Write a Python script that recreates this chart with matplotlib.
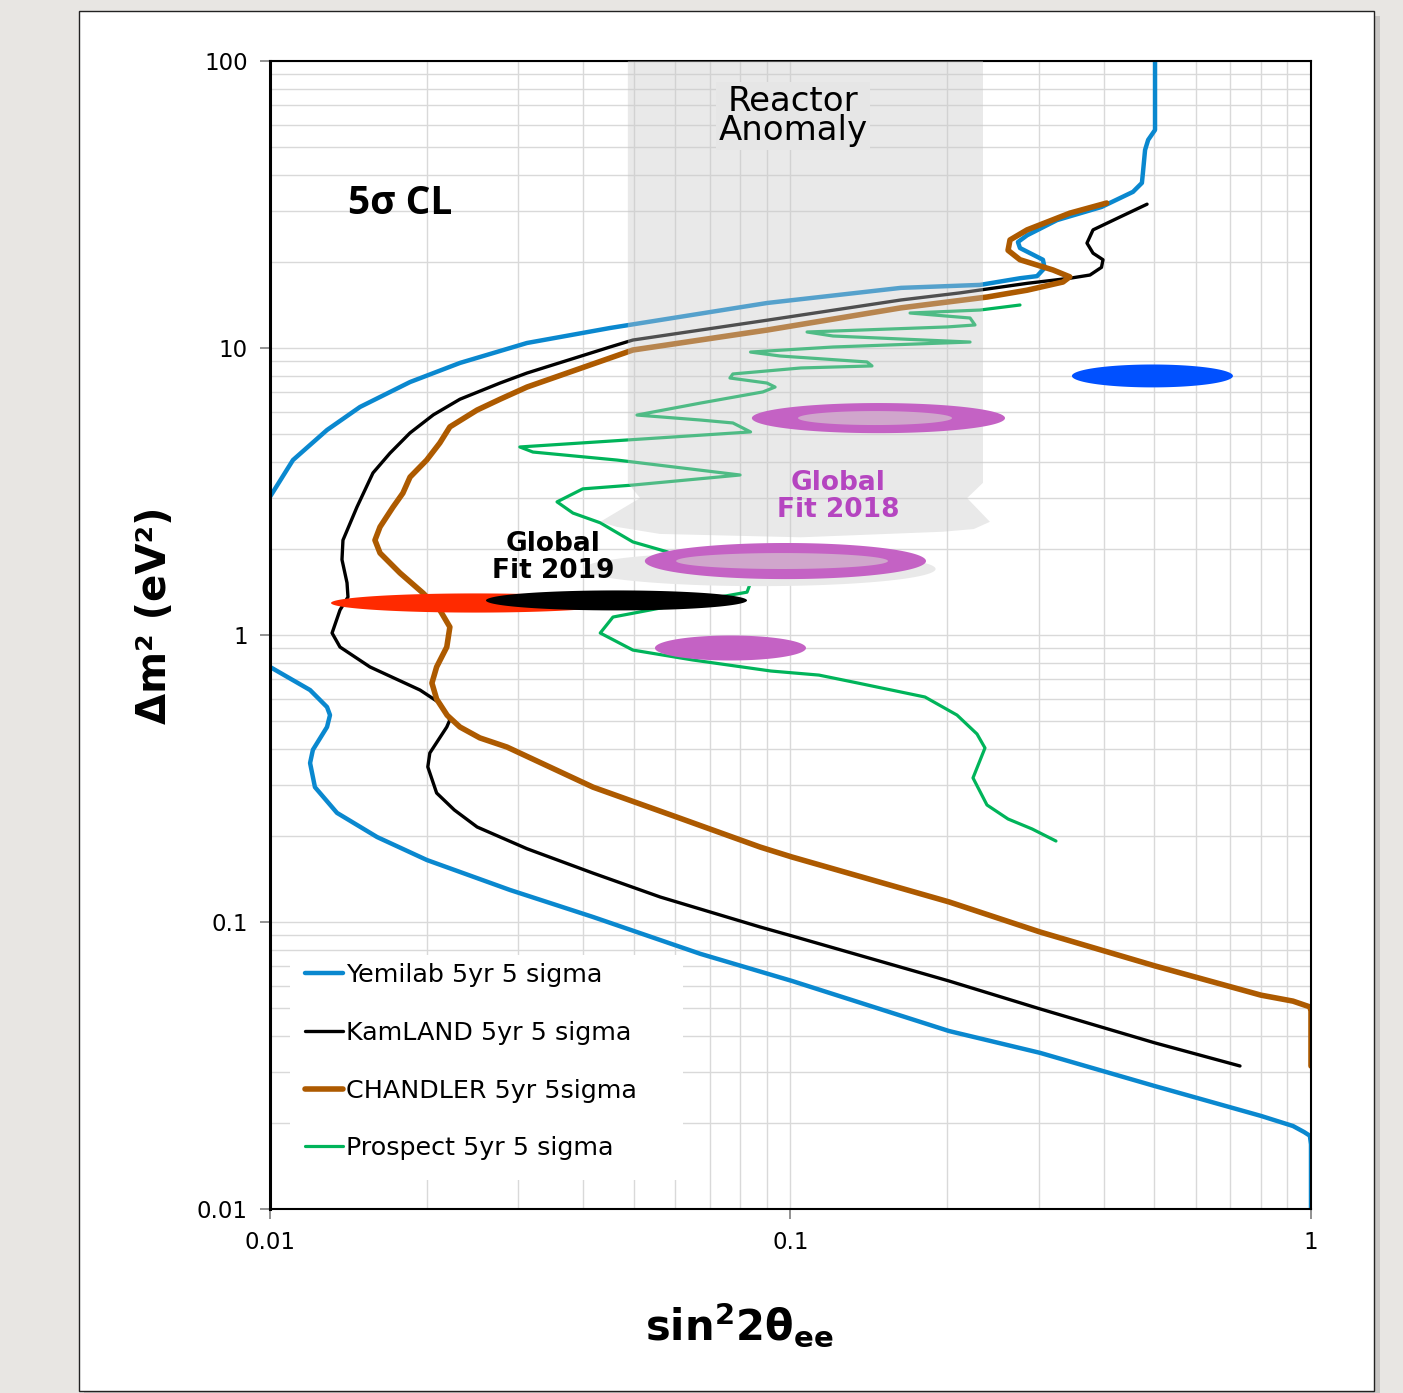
import numpy as np
import matplotlib
matplotlib.use('Agg')
import matplotlib.pyplot as plt
from matplotlib.patches import Rectangle, Polygon
from matplotlib.ticker import LogLocator, NullFormatter

plt.rcParams['mathtext.fontset'] = 'custom'
plt.rcParams['mathtext.rm'] = 'DejaVu Sans:bold'
plt.rcParams['mathtext.it'] = 'DejaVu Sans:bold'
plt.rcParams['mathtext.bf'] = 'DejaVu Sans:bold'

# ---- data (sin^2 2theta, dm^2) ----
yemi_up_x = [0.5016, 0.5016, 0.4866, 0.48, 0.4754, 0.4733, 0.455, 0.3958, 0.3251, 0.2848, 0.2735,
             0.276, 0.3055, 0.3078, 0.2976, 0.276, 0.2313, 0.163, 0.0902, 0.045, 0.03117, 0.02317,
             0.01858, 0.01489, 0.01287, 0.01107, 0.01]
yemi_up_y = [100, 57.5, 53.1, 49.0, 40.7, 37.6, 35.0, 31.0, 27.9, 24.7, 23.4,
             22.3, 20.3, 19.0, 17.8, 17.5, 16.59, 16.2, 14.35, 11.74, 10.41, 8.87,
             7.61, 6.23, 5.18, 4.07, 3.03]
yemi_lo_x = [0.01, 0.01194, 0.01287, 0.01304, 0.01287, 0.01209, 0.01194, 0.0122, 0.01345, 0.01606,
             0.02002, 0.02891, 0.04175, 0.0672, 0.1007, 0.2016, 0.3016, 0.5016, 0.8017, 0.9235,
             0.97, 0.995, 1.0, 1.0]
yemi_lo_y = [0.774, 0.643, 0.561, 0.526, 0.478, 0.398, 0.358, 0.295, 0.240, 0.1977,
             0.1644, 0.1293, 0.1041, 0.0774, 0.0623, 0.0417, 0.0350, 0.0268, 0.0211, 0.01946,
             0.01854, 0.0180, 0.0168, 0.01]

kam_x = [0.4842, 0.4295, 0.3813, 0.3712, 0.3813, 0.3985, 0.3958, 0.3762, 0.344, 0.2848, 0.2116,
         0.163, 0.0902, 0.0498, 0.045, 0.03117, 0.02767, 0.02317, 0.0206, 0.01858, 0.017, 0.01577,
         0.01469, 0.01381, 0.01375, 0.01406, 0.01412, 0.01363, 0.01316, 0.01363, 0.01556, 0.01942,
         0.0212, 0.02216, 0.02186, 0.02028, 0.0201, 0.0209, 0.0226, 0.025, 0.03117, 0.04175,
         0.0562, 0.0874, 0.1007, 0.2016, 0.3016, 0.5016, 0.7304]
kam_y = [31.7, 28.6, 25.8, 23.2, 21.4, 20.3, 19.1, 17.96, 17.5, 16.8, 15.56,
         14.7, 12.5, 10.66, 10.08, 8.18, 7.55, 6.63, 5.85, 5.06, 4.3, 3.67,
         2.79, 2.14, 1.83, 1.52, 1.356, 1.222, 1.016, 0.908, 0.774, 0.643,
         0.579, 0.506, 0.478, 0.388, 0.347, 0.2815, 0.2457, 0.2143, 0.180, 0.148,
         0.1222, 0.0961, 0.0894, 0.0623, 0.0498, 0.0379, 0.0315]

chan_x = [0.405, 0.344, 0.2848, 0.2641, 0.2618, 0.276, 0.3194, 0.344, 0.3338, 0.2848, 0.2385,
          0.163, 0.0902, 0.0498, 0.03117, 0.02767, 0.025, 0.02216, 0.0212, 0.02, 0.01858, 0.018,
          0.01723, 0.01627, 0.01591, 0.01627, 0.01777, 0.01968, 0.0212, 0.02216, 0.02186, 0.0209,
          0.02047, 0.0209, 0.0219, 0.02317, 0.0253, 0.02853, 0.04175, 0.0605, 0.0874, 0.1007,
          0.2016, 0.3016, 0.5016, 0.8017, 0.9235, 0.995, 1.0, 1.0]
chan_y = [32.0, 29.5, 25.8, 23.8, 21.9, 20.3, 18.7, 17.7, 16.98, 15.9, 15.05,
          13.8, 11.55, 9.84, 7.31, 6.63, 6.08, 5.31, 4.67, 4.07, 3.55, 3.12,
          2.79, 2.38, 2.14, 1.93, 1.645, 1.40, 1.222, 1.066, 0.908, 0.774,
          0.680, 0.598, 0.525, 0.478, 0.438, 0.407, 0.295, 0.232, 0.1825, 0.1684,
          0.1175, 0.0923, 0.0703, 0.0556, 0.053, 0.0506, 0.049, 0.0315]

pros_x = [0.276, 0.2312, 0.1697, 0.2213, 0.2262, 0.1999, 0.1076, 0.1207, 0.2213, 0.1207, 0.0838,
          0.0954, 0.1403, 0.1434, 0.1047, 0.0775, 0.0765, 0.0901, 0.0934, 0.0885, 0.0672, 0.0507,
          0.0672, 0.0775, 0.0838, 0.0485, 0.0302, 0.032, 0.0464, 0.08, 0.0498, 0.0399, 0.0356,
          0.0382, 0.0431, 0.0498, 0.0579, 0.0838, 0.0825, 0.0672, 0.0456, 0.0431, 0.0498, 0.065,
          0.0917, 0.1134, 0.1348, 0.1813, 0.2089, 0.2282, 0.2364, 0.2242, 0.2385, 0.2618, 0.2911,
          0.3236]
pros_y = [14.12, 13.56, 13.24, 12.72, 12.03, 11.84, 11.37, 11.01, 10.49, 10.08, 9.68,
          9.38, 8.94, 8.66, 8.52, 8.12, 7.86, 7.55, 7.31, 7.03, 6.43, 5.84,
          5.61, 5.48, 5.10, 4.78, 4.52, 4.34, 4.07, 3.61, 3.33, 3.23, 2.91,
          2.66, 2.46, 2.11, 1.95, 1.52, 1.41, 1.32, 1.155, 1.016, 0.886, 0.818,
          0.749, 0.725, 0.680, 0.608, 0.526, 0.452, 0.404, 0.3177, 0.2557, 0.2285, 0.211,
          0.1915]

# reactor anomaly band outline
band_x = [0.0487, 0.2343, 0.2343, 0.2184, 0.2416, 0.2250, 0.1963, 0.1047, 0.0561, 0.0464, 0.0431, 0.0514, 0.0487]
band_y = [100, 100, 3.39, 3.0, 2.48, 2.34, 2.29, 2.19, 2.25, 2.38, 2.48, 3.0, 3.39]

# best-fit regions: x range, y range
fit_names = ['shadow', 'red', 'black', 'gf18a', 'gf18a_in', 'gf18b', 'gf18b_in', 'gf18c', 'blue']
fit_xlo = [0.040, 0.0131, 0.026, 0.0843, 0.1034, 0.0525, 0.0603, 0.0549, 0.3473]
fit_xhi = [0.190, 0.0470, 0.0825, 0.2583, 0.2043, 0.1821, 0.1539, 0.1071, 0.708]
fit_ylo = [1.48, 1.197, 1.218, 5.05, 5.39, 1.566, 1.698, 0.815, 7.29]
fit_yhi = [1.95, 1.396, 1.430, 6.43, 6.03, 2.092, 1.930, 0.996, 8.76]
fit_colors = ['#e9e9e9', '#ff2a00', '#000000', '#c462c4', '#d0a6cc', '#c462c4', '#d0a6cc', '#c462c4', '#0050ff']

labels = ['Yemilab 5yr 5 sigma', 'KamLAND 5yr 5 sigma', 'CHANDLER 5yr 5sigma', 'Prospect 5yr 5 sigma']
c_blue, c_black, c_brown, c_green = '#0a88cf', '#000000', '#ad5a00', '#00b45a'

fig = plt.figure(figsize=(14.03, 13.93), dpi=100)
fig.patch.set_facecolor('#e8e6e3')
fig.add_artist(Rectangle((0.0600, -0.01), 0.9233, 0.9985, transform=fig.transFigure,
                         facecolor='#c8c6c4', edgecolor='none', zorder=-3))
fig.add_artist(Rectangle((0.05631, 0.00144), 0.92302, 0.99066, transform=fig.transFigure,
                         facecolor='white', edgecolor='#222222', lw=1.0, zorder=-2))

ax = fig.add_axes([0.19244, 0.13209, 0.74198, 0.82412])
ax.set_xscale('log')
ax.set_yscale('log')
ax.set_xlim(0.01, 1)
ax.set_ylim(0.01, 100)

ax.xaxis.set_minor_locator(LogLocator(base=10, subs=np.arange(2, 10)))
ax.yaxis.set_minor_locator(LogLocator(base=10, subs=np.arange(2, 10)))
ax.xaxis.set_minor_formatter(NullFormatter())
ax.yaxis.set_minor_formatter(NullFormatter())
ax.set_axisbelow(True)
ax.grid(which='both', color='#d9d9d9', lw=1.0)

ax.set_xticks([0.01, 0.1, 1])
ax.set_xticklabels(['0.01', '0.1', '1'])
ax.set_yticks([0.01, 0.1, 1, 10, 100])
ax.set_yticklabels(['0.01', '0.1', '1', '10', '100'])
ax.tick_params(which='major', length=7, width=1.2, color='#7f7f7f', labelsize=16.5, pad=9)
ax.tick_params(which='minor', length=0)

ax.spines['left'].set_linewidth(2.2)
for s in ['top', 'right', 'bottom']:
    ax.spines[s].set_linewidth(1.5)

kw = dict(zorder=2, solid_joinstyle='round', solid_capstyle='round')
h1, = ax.plot(yemi_up_x, yemi_up_y, color=c_blue, lw=3.2, label=labels[0], **kw)
ax.plot(yemi_lo_x, yemi_lo_y, color=c_blue, lw=3.2, **kw)
h2, = ax.plot(kam_x, kam_y, color=c_black, lw=2.4, label=labels[1], **kw)
h3, = ax.plot(chan_x, chan_y, color=c_brown, lw=4.0, label=labels[2], **kw)
h4, = ax.plot(pros_x, pros_y, color=c_green, lw=2.3, label=labels[3], **kw)

ax.add_patch(Polygon(list(zip(band_x, band_y)), closed=True, facecolor='#c8c8c8',
                     edgecolor='none', alpha=0.4, zorder=3))

t = np.linspace(0, 2 * np.pi, 300)
for name, x0, x1, y0, y1, col in zip(fit_names, fit_xlo, fit_xhi, fit_ylo, fit_yhi, fit_colors):
    cx, ax_ = (np.log10(x0) + np.log10(x1)) / 2, (np.log10(x1) - np.log10(x0)) / 2
    cy, by_ = (np.log10(y0) + np.log10(y1)) / 2, (np.log10(y1) - np.log10(y0)) / 2
    ax.fill(10 ** (cx + ax_ * np.cos(t)), 10 ** (cy + by_ * np.sin(t)), color=col, lw=0,
            zorder=3.5 if name == 'shadow' else 4)

ax.text(0.1011, 64.3, 'Reactor\nAnomaly', fontsize=24.5, ha='center', va='center',
        linespacing=0.88, zorder=6,
        bbox=dict(facecolor='#e6e6e6', edgecolor='none', pad=2))
ax.text(0.01412, 32.0, '5σ CL', fontsize=28, fontweight='bold', family=['Open Sans', 'DejaVu Sans'],
        ha='left', va='center', zorder=6)
ax.text(0.035, 1.855, 'Global\nFit 2019', fontsize=19, fontweight='bold', ha='center',
        va='center', linespacing=1.05, zorder=6)
ax.text(0.1234, 3.03, 'Global\nFit 2018', fontsize=19, fontweight='bold', color='#b545c0',
        ha='center', va='center', linespacing=1.05, zorder=6)

ax.text(-0.1105, 0.5174, 'Δm² (eV²)', fontsize=29, fontweight='bold', rotation=90,
        ha='center', va='center', transform=ax.transAxes)
ax.text(0.4505, -0.101, r'$\mathrm{sin^{2}2θ_{ee}}$', fontsize=30, ha='center', va='center',
        transform=ax.transAxes)

ax.add_patch(Rectangle((0.0192, 0.0253), 0.3775, 0.196, transform=ax.transAxes,
                       facecolor='white', edgecolor='none', zorder=7))
leg = ax.legend(handles=[h1, h2, h3, h4], loc='upper left', bbox_to_anchor=(0.0336, 0.2143),
                frameon=False, fontsize=18.3, handlelength=1.5, handletextpad=0.12,
                labelspacing=1.33, borderpad=0, borderaxespad=0)
leg.set_zorder(8)

fig.savefig('out.png', dpi=100, facecolor=fig.get_facecolor())
